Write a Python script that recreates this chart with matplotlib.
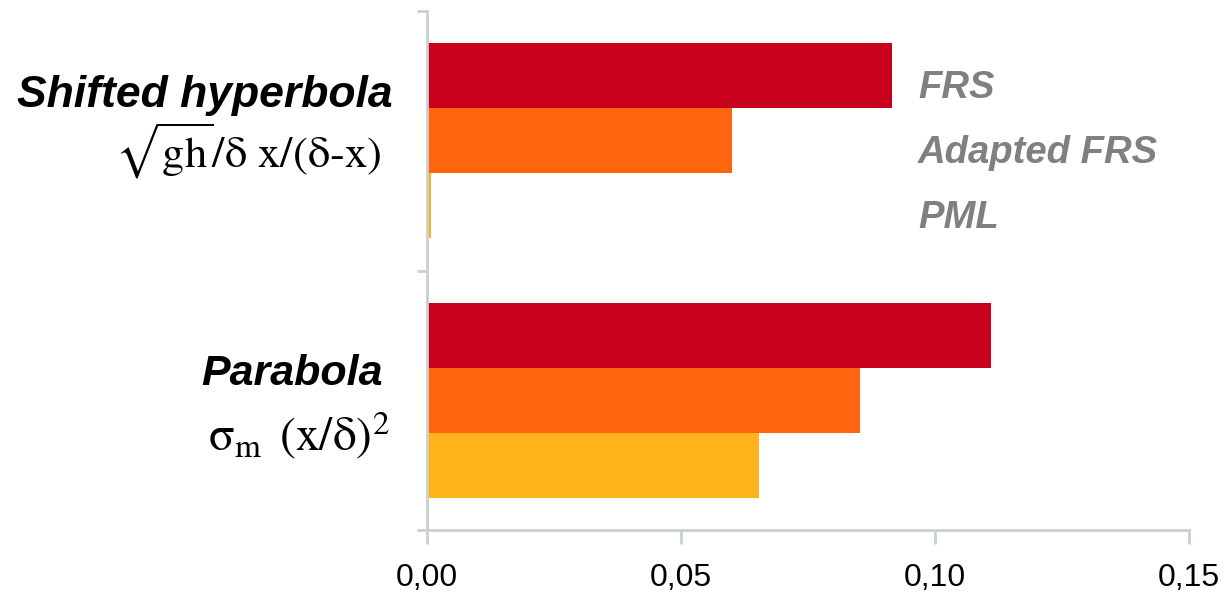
import matplotlib
matplotlib.use("Agg")
import matplotlib.pyplot as plt

# data
categories = ["Shifted hyperbola", "Parabola"]
formulas = [r"$\sqrt{\text{gh}}\text{/δ x/(δ-x)}$",
            r"$\text{σ}_{\text{m}}\ \, \text{(x/δ)}^{\text{2}}$"]
series = ["FRS", "Adapted FRS", "PML"]
frs = [0.0915, 0.1110]
adapted = [0.0601, 0.0852]
pml = [0.0008, 0.0654]
xticks = [0.00, 0.05, 0.10, 0.15]
xtick_labels = ["0,00", "0,05", "0,10", "0,15"]

colors = ["#C8001E", "#FF640E", "#FFB21A"]
axis_color = "#C9D0D0"
plt.rcParams["mathtext.fontset"] = "stix"

fig = plt.figure(figsize=(12.3, 5.95), dpi=100)
ax = fig.add_axes([427 / 1230, 1 - 530 / 595, 762 / 1230, 519 / 595])

h = 0.25
ypos = list(range(len(categories)))
for i, vals in enumerate([frs, adapted, pml]):
    ax.barh([y + (i - 1) * h for y in ypos], vals, height=h, color=colors[i], zorder=1)

ax.set_xlim(0, 0.15)
ax.set_ylim(len(categories) - 0.5, -0.5)
ax.set_xticks(xticks)
ax.set_xticklabels(xtick_labels, fontsize=23, family="Liberation Sans")
ax.set_yticks([-0.5, 0.5, 1.5])
ax.set_yticklabels([])
ax.tick_params(axis="x", length=10, width=2, color=axis_color, pad=14)
ax.tick_params(axis="y", length=7, width=2, color=axis_color)
for s in ["top", "right"]:
    ax.spines[s].set_visible(False)
for s in ["left", "bottom"]:
    ax.spines[s].set_color(axis_color)
    ax.spines[s].set_linewidth(2)
    ax.spines[s].set_zorder(3)

# category labels on the left
tr = ax.get_yaxis_transform()
name_x = [-0.0446, -0.0577]
name_dy = [-0.130, -0.059]
name_size = [32, 31]
form_x = [-0.0604, -0.0486]
form_dy = [0.105, 0.192]
form_size = [32, 34]
for k, y in enumerate(ypos):
    ax.text(name_x[k], y + name_dy[k], categories[k], transform=tr, ha="right", va="baseline",
            fontsize=name_size[k], fontweight="bold", fontstyle="italic", family="Liberation Sans")
    ax.text(form_x[k], y + form_dy[k], formulas[k], transform=tr, ha="right", va="baseline",
            fontsize=form_size[k])

# series names next to the first group
for i, s in enumerate(series):
    ax.text(0.0967, ypos[0] + (i - 1) * h + 0.085, s, ha="left", va="baseline",
            fontsize=27.5, fontweight="bold", fontstyle="italic", color="#808080",
            family="Liberation Sans")

fig.savefig("out.png", dpi=100)
